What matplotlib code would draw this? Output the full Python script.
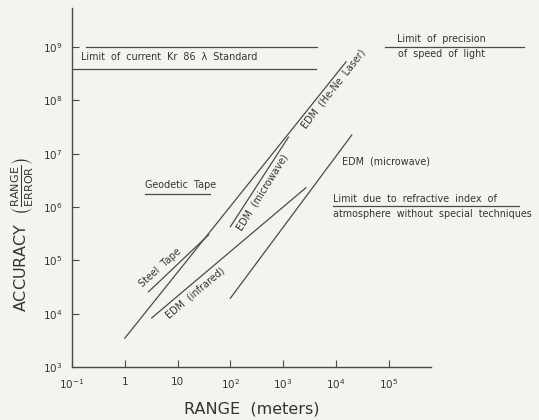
import numpy as np
import matplotlib
matplotlib.use("Agg")
import matplotlib.pyplot as plt

# line end points, stored as log10 values (range in m, accuracy)
main_x = [0.0, 4.19]          # steel tape / EDM (He-Ne laser) trend
main_y = [3.54, 8.72]
steel_x = [0.45, 1.59]
steel_y = [4.41, 5.48]
infrared_x = [0.51, 3.43]
infrared_y = [3.92, 6.36]
micro_short_x = [2.0, 3.1]
micro_short_y = [5.63, 7.31]
micro_long_x = [2.0, 4.3]
micro_long_y = [4.29, 7.35]

kr_upper_x = [-0.74, 3.64]
kr_upper_y = 9.0
kr_lower_x = [-1.0, 3.62]
kr_lower_y = 8.59
light_x = [4.92, 7.57]
light_y = 9.0
geodetic_x = [0.38, 1.61]
geodetic_y = 6.25
refract_x = [3.94, 7.46]
refract_y = 6.02

x_ticks = [-1, 0, 1, 2, 3, 4, 5]
x_tick_labels = [r"$10^{-1}$", "1", "10", r"$10^{2}$", r"$10^{3}$", r"$10^{4}$", r"$10^{5}$"]
y_ticks = [3, 4, 5, 6, 7, 8, 9]
y_tick_labels = [r"$10^{%d}$" % t for t in y_ticks]

bg = "#f4f4ef"
ink = "#4a4a4a"
txt = "#333333"

fig = plt.figure(figsize=(5.39, 4.2), dpi=100, facecolor=bg)
ax = fig.add_axes([72 / 539, 1 - 367 / 420, 359 / 539, 359 / 420])
ax.set_facecolor(bg)

def p(v):
    return np.power(10.0, v)

lw = 0.9
ax.plot(p(np.array(main_x)), p(np.array(main_y)), color=ink, lw=lw)
ax.plot(p(np.array(steel_x)), p(np.array(steel_y)), color=ink, lw=lw)
ax.plot(p(np.array(infrared_x)), p(np.array(infrared_y)), color=ink, lw=lw)
ax.plot(p(np.array(micro_short_x)), p(np.array(micro_short_y)), color=ink, lw=lw)
ax.plot(p(np.array(micro_long_x)), p(np.array(micro_long_y)), color=ink, lw=lw)

# horizontal limit lines
ax.plot(p(np.array(kr_upper_x)), [p(kr_upper_y)] * 2, color=ink, lw=lw)
ax.plot(p(np.array(kr_lower_x)), [p(kr_lower_y)] * 2, color=ink, lw=lw)
ax.plot(p(np.array(light_x)), [p(light_y)] * 2, color=ink, lw=lw, clip_on=False)
ax.plot(p(np.array(geodetic_x)), [p(geodetic_y)] * 2, color=ink, lw=lw)
ax.plot(p(np.array(refract_x)), [p(refract_y)] * 2, color=ink, lw=lw, clip_on=False)

ax.set_xscale("log")
ax.set_yscale("log")
ax.set_xlim(p(-1.0), p(5.8))
ax.set_ylim(p(3.0), p(9.73))
ax.set_xticks(p(np.array(x_ticks, dtype=float)))
ax.set_xticklabels(x_tick_labels)
ax.set_yticks(p(np.array(y_ticks, dtype=float)))
ax.set_yticklabels(y_tick_labels)
ax.minorticks_off()
ax.tick_params(direction="in", length=5, width=0.8, colors=ink, labelsize=7.5,
               labelcolor=txt, pad=7)
for s in ["top", "right"]:
    ax.spines[s].set_visible(False)
for s in ["left", "bottom"]:
    ax.spines[s].set_color(ink)
    ax.spines[s].set_linewidth(1.0)

fs = 6.9
kw = dict(color=txt, fontsize=fs, clip_on=False)
ax.text(p(-0.83), p(8.82), "Limit  of  current  Kr  86  \u03bb  Standard", va="center", **kw)
ax.text(p(5.15), p(9.15), "Limit  of  precision", va="center", **kw)
ax.text(p(5.17), p(8.87), "of  speed  of  light", va="center", **kw)
ax.text(p(0.38), p(6.41), "Geodetic  Tape", va="center", **kw)
ax.text(p(4.11), p(6.86), "EDM  (microwave)", va="center", **kw)
ax.text(p(3.94), p(6.15), "Limit  due  to  refractive  index  of", va="center", **kw)
ax.text(p(3.94), p(5.87), "atmosphere  without  special  techniques", va="center", **kw)

rot = dict(ha="center", va="center", rotation_mode="anchor")
ax.text(p(0.68), p(4.86), "Steel  Tape", rotation=42, **rot, **kw)
ax.text(p(1.33), p(4.39), "EDM  (infrared)", rotation=40, **rot, **kw)
ax.text(p(2.61), p(6.28), "EDM  (microwave)", rotation=58, **rot, **kw)
ax.text(p(3.96), p(8.22), "EDM  (He-Ne  Laser)", rotation=52, **rot, **kw)

ax.set_xlabel("RANGE  (meters)", fontsize=11.5, color=txt, labelpad=8)
fig.text(22 / 539, 1 - 235 / 420,
         r"ACCURACY  $\left(\frac{\mathrm{RANGE}}{\mathrm{ERROR}}\right)$",
         rotation=90, ha="center", va="center", fontsize=11.5, color=txt)

fig.savefig("out.png", dpi=100, facecolor=bg)
